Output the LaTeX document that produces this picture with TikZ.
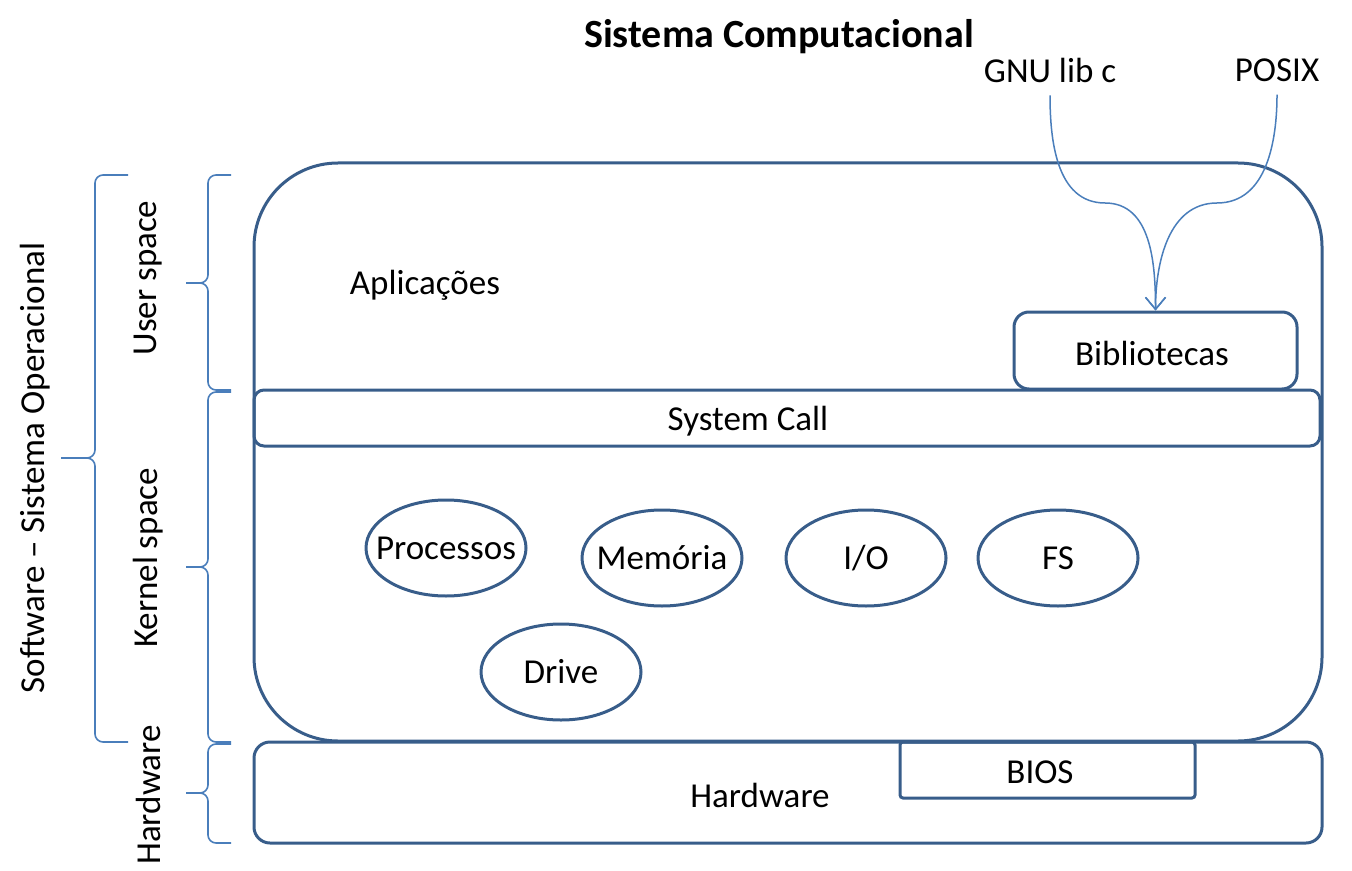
\documentclass[tikz,border=0pt]{standalone}
\usepackage{fontspec}
\setmainfont{Carlito}
\usetikzlibrary{shapes.geometric,arrows.meta}
\definecolor{boxblue}{RGB}{56,93,138}
\definecolor{lineblue}{RGB}{74,126,187}

\begin{document}
\begin{tikzpicture}[x=0.5pt, y=-0.5pt, font=\fontsize{17.5}{21}\selectfont,
  block/.style={draw=boxblue, line width=1.5pt, minimum width=534pt},
  proc/.style={ellipse, draw=boxblue, line width=1.5pt, minimum width=80pt, minimum height=48pt, inner sep=0pt},
  side/.style={rotate=90},
  link/.style={-{Straight Barb[length=6pt, width=10pt]}, draw=lineblue, line width=0.75pt, shorten <=3pt},
  curly/.style={draw=lineblue, line width=0.8pt, rounded corners=4pt}]

  \useasboundingbox (0,0) rectangle (1352,871);

  % Boxes
  \node[block, minimum height=289pt, rounded corners=42pt] (app) at (788,452) {};
  \node[block, minimum height=28pt, rounded corners=5pt, minimum width=533pt] (sys) at (787,418) {};
  \node[block, minimum height=38.5pt, minimum width=141.5pt, rounded corners=7.5pt] (bib) at (1155.5,350.5) {};
  \node[block, minimum height=50.5pt, rounded corners=8pt] (hw) at (788,792.5) {};
  \node[block, minimum height=28pt, minimum width=147.5pt, rounded corners=1.5pt] (bios) at (1047.5,770) {};

  % Texts in boxes
  \node (apptxt) at (425,285) {Aplicações};
  \node (systxt) at (748,421) {System Call};
  \node (bibtxt) at (1152,353) {Bibliotecas};
  \node (hwtxt) at (760,795) {Hardware};
  \node (biostxt) at (1040,772) {BIOS};

  % Kernel parts
  \node[proc, label=center:Processos] (P1) at (446,548) {};
  \node[proc, label=center:Memória] (P2) at (662,558) {};
  \node[proc, label=center:I/O] (P3) at (866,558) {};
  \node[proc, label=center:FS] (P4) at (1058,558) {};
  \node[proc, label=center:Drive] (P5) at (561,672) {};

  % Top labels
  \node[font=\fontsize{20}{24}\selectfont\bfseries] (title) at (779,37) {Sistema Computacional};
  \node (gnu) at (1050,70) {GNU lib c};
  \node (posix) at (1277,70) {POSIX};
  \coordinate (gnumid) at (1105,203);
  \coordinate (posixmid) at (1217,203);

  % Arrows to the libraries
  \draw[link] (gnu.south) to[out=-90, in=180] (gnumid) to[out=0, in=90] (bib.north);
  \draw[link] (posix.south) to[out=-90, in=0] (posixmid) to[out=180, in=90] (bib.north);

  % Braces
  \draw[curly] (128,175) -- (95,175) -- (95,458) -- (61,458);
  \draw[curly] (128,742) -- (95,742) -- (95,458) -- (61,458);
  \draw[curly] (231,175) -- (208,175) -- (208,283) -- (186,283);
  \draw[curly] (231,390) -- (208,390) -- (208,283) -- (186,283);
  \draw[curly] (231,392) -- (208,392) -- (208,567) -- (186,567);
  \draw[curly] (231,742) -- (208,742) -- (208,567) -- (186,567);
  \draw[curly] (231,744) -- (208,744) -- (208,793) -- (186,793);
  \draw[curly] (231,843) -- (208,843) -- (208,793) -- (186,793);

  % Side labels
  \node[side] (lso) at (35,468) {Software – Sistema Operacional};
  \node[side] (luser) at (148,278) {User space};
  \node[side] (lkernel) at (148,558) {Kernel space};
  \node[side] (lhw) at (148,795) {Hardware};

\end{tikzpicture}
\end{document}
